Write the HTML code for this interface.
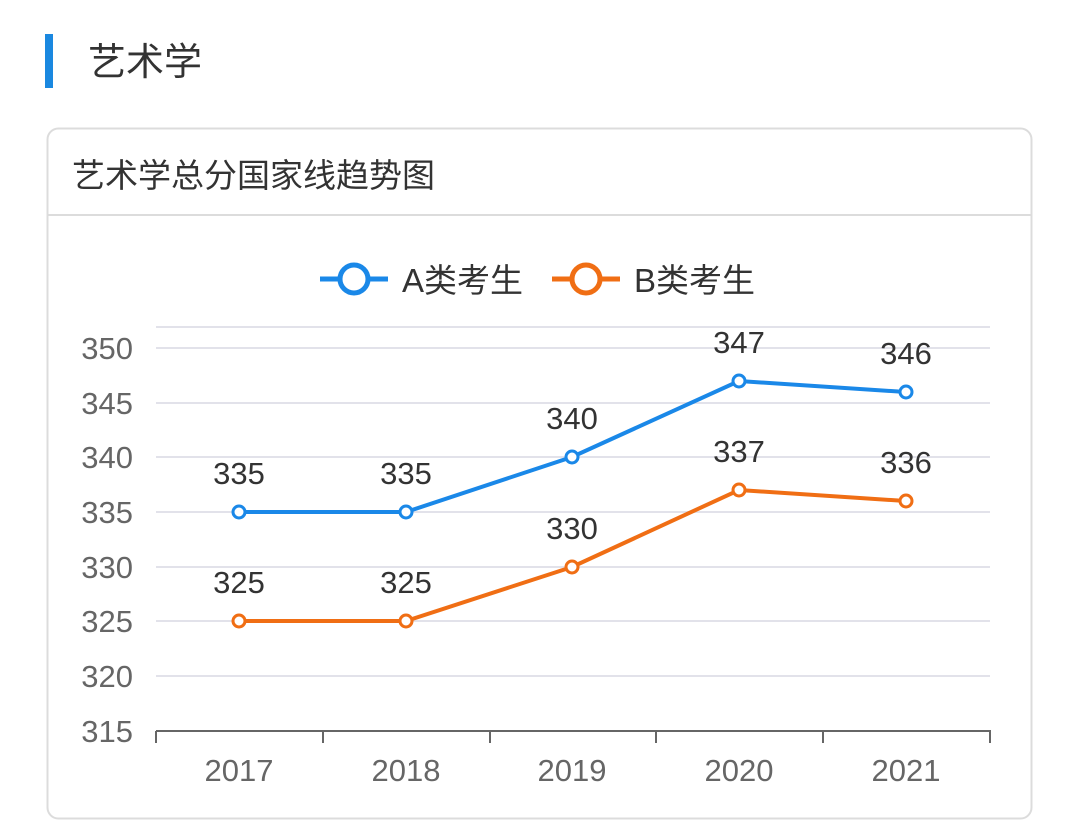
<!DOCTYPE html>
<html><head><meta charset="utf-8"><style>
body{margin:0;width:1080px;height:838px;background:#fff;overflow:hidden;font-family:"Liberation Sans","Noto Sans CJK SC",sans-serif;}
</style></head><body>
<svg width="1080" height="838" xmlns="http://www.w3.org/2000/svg" style="position:absolute;left:0;top:0">
<rect x="45" y="34" width="8" height="54" fill="#1a88e0"/>
<text x="88" y="75" font-size="38" fill="#333" font-family="Liberation Sans,Noto Sans CJK SC,sans-serif">艺术学</text>
<rect x="47.5" y="128.5" width="984" height="690" rx="11" fill="#fff" stroke="#dcdcdc" stroke-width="2"/>
<line x1="48" y1="215" x2="1031" y2="215" stroke="#dcdcdc" stroke-width="2"/>
<text x="72" y="187" font-size="33" fill="#333" font-family="Liberation Sans,Noto Sans CJK SC,sans-serif">艺术学总分国家线趋势图</text>
<g font-family="Liberation Sans,Noto Sans CJK SC,sans-serif" font-size="33" fill="#333">
<line x1="320" y1="279" x2="388" y2="279" stroke="#1a88e8" stroke-width="5"/>
<circle cx="354" cy="279" r="14" fill="#fff" stroke="#1a88e8" stroke-width="5"/>
<text x="402" y="292">A类考生</text>
<line x1="552" y1="279" x2="620" y2="279" stroke="#f06e14" stroke-width="5"/>
<circle cx="586" cy="279" r="14" fill="#fff" stroke="#f06e14" stroke-width="5"/>
<text x="634" y="292">B类考生</text>
</g>
<g stroke="#e2e2ea" stroke-width="2">
<line x1="156" y1="327" x2="990" y2="327"/>
<line x1="156" y1="348" x2="990" y2="348"/>
<line x1="156" y1="403" x2="990" y2="403"/>
<line x1="156" y1="457" x2="990" y2="457"/>
<line x1="156" y1="512" x2="990" y2="512"/>
<line x1="156" y1="567" x2="990" y2="567"/>
<line x1="156" y1="621" x2="990" y2="621"/>
<line x1="156" y1="676" x2="990" y2="676"/>
</g>
<g stroke="#666" stroke-width="2">
<line x1="156" y1="731" x2="991" y2="731"/>
<line x1="156" y1="731" x2="156" y2="743"/><line x1="323" y1="731" x2="323" y2="743"/>
<line x1="490" y1="731" x2="490" y2="743"/><line x1="656" y1="731" x2="656" y2="743"/>
<line x1="823" y1="731" x2="823" y2="743"/><line x1="990" y1="731" x2="990" y2="743"/>
</g>
<g font-family="Liberation Sans,sans-serif" font-size="31" fill="#666" text-anchor="end">
<text x="133" y="359">350</text><text x="133" y="414">345</text><text x="133" y="468">340</text>
<text x="133" y="523">335</text><text x="133" y="578">330</text><text x="133" y="632">325</text>
<text x="133" y="687">320</text><text x="133" y="742">315</text>
</g>
<g font-family="Liberation Sans,sans-serif" font-size="31" fill="#666" text-anchor="middle">
<text x="239" y="781">2017</text><text x="406" y="781">2018</text><text x="572" y="781">2019</text>
<text x="739" y="781">2020</text><text x="906" y="781">2021</text>
</g>
<polyline points="239,512 406,512 572,457 739,381 906,392" fill="none" stroke="#1a88e8" stroke-width="4"/>
<polyline points="239,621 406,621 572,567 739,490 906,501" fill="none" stroke="#f06e14" stroke-width="4"/>
<g fill="#fff" stroke="#1a88e8" stroke-width="3">
<circle cx="239" cy="512" r="6"/><circle cx="406" cy="512" r="6"/><circle cx="572" cy="457" r="6"/><circle cx="739" cy="381" r="6"/><circle cx="906" cy="392" r="6"/>
</g>
<g fill="#fff" stroke="#f06e14" stroke-width="3">
<circle cx="239" cy="621" r="6"/><circle cx="406" cy="621" r="6"/><circle cx="572" cy="567" r="6"/><circle cx="739" cy="490" r="6"/><circle cx="906" cy="501" r="6"/>
</g>
<g font-family="Liberation Sans,sans-serif" font-size="31" fill="#333" text-anchor="middle">
<text x="239" y="484">335</text><text x="406" y="484">335</text><text x="572" y="429">340</text><text x="739" y="353">347</text><text x="906" y="364">346</text>
<text x="239" y="593">325</text><text x="406" y="593">325</text><text x="572" y="539">330</text><text x="739" y="462">337</text><text x="906" y="473">336</text>
</g>
</svg>
</body></html>
